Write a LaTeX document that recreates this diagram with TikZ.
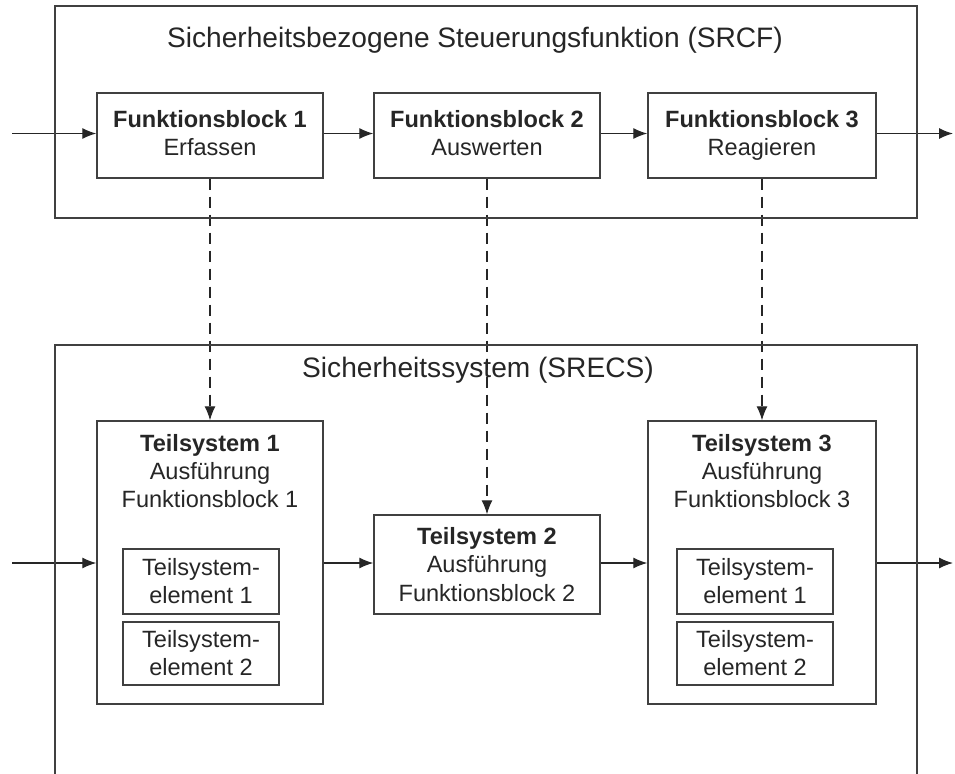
\documentclass[tikz,border=0pt]{standalone}
\usepackage{fontspec}
\setmainfont{Liberation Sans}
\usetikzlibrary{arrows.meta}
\pgfdeclarelayer{bg}
\pgfsetlayers{bg,main}

\tikzset{
        frame/.style={draw=black!75, line width=0.8pt, inner sep=0pt},
        block/.style={frame, align=center, text=black!85, font=\fontsize{13.4}{16}\selectfont},
        heading/.style={text=black!85, font=\fontsize{16}{19}\selectfont},
        flow/.style={draw=black!85, line width=0.7pt, -{Latex[length=2.8mm,width=2.2mm]}},
        map/.style={flow, dash pattern=on 2.2mm off 1.4mm},
}

\begin{document}
\begin{tikzpicture}
        \useasboundingbox (0cm, 0cm) rectangle (19.100000cm, -15.460000cm);
        \clip (0cm, 0cm) rectangle (19.100000cm, -15.460000cm);
        % obere Ebene: SRCF
        \node (srcf) [frame, minimum width=17.240000cm, minimum height=4.240000cm] at (9.720000cm, -2.240000cm) {};
        \node (srcft) [heading] at (9.500000cm, -0.800000cm) {Sicherheitsbezogene Steuerungsfunktion (SRCF)};
        \node (fb1) [block, minimum width=4.520000cm, minimum height=1.700000cm] at (4.200000cm, -2.710000cm) {\textbf{Funktionsblock 1}\\Erfassen\vphantom{g}};
        \node (fb2) [block, minimum width=4.520000cm, minimum height=1.700000cm] at (9.740000cm, -2.710000cm) {\textbf{Funktionsblock 2}\\Auswerten\vphantom{g}};
        \node (fb3) [block, minimum width=4.560000cm, minimum height=1.700000cm] at (15.240000cm, -2.710000cm) {\textbf{Funktionsblock 3}\\Reagieren};
        \coordinate (in1) at (0.240000cm, -2.670000cm);
        \coordinate (out1) at (19.060000cm, -2.670000cm);
        % untere Ebene: SRECS
        \node (srecs) [frame, minimum width=17.240000cm, minimum height=9.100000cm] at (9.720000cm, -11.450000cm) {};
        \node (srecst) [heading] at (9.560000cm, -7.400000cm) {Sicherheitssystem (SRECS)};
        \node (ts1) [frame, minimum width=4.520000cm, minimum height=5.660000cm] at (4.200000cm, -11.250000cm) {};
        \node (ts1t) [block, draw=none] at (4.200000cm, -9.420000cm) {\textbf{Teilsystem 1}\\Ausführung\\Funktionsblock 1};
        \node (e11) [block, minimum width=3.120000cm, minimum height=1.300000cm] at (4.020000cm, -11.630000cm) {Teilsystem-\\element 1};
        \node (e12) [block, minimum width=3.120000cm, minimum height=1.260000cm] at (4.020000cm, -13.070000cm) {Teilsystem-\\element 2};
        \node (ts2) [block, minimum width=4.520000cm, minimum height=1.980000cm] at (9.740000cm, -11.290000cm) {\textbf{Teilsystem 2}\\Ausführung\\Funktionsblock 2};
        \node (ts3) [frame, minimum width=4.560000cm, minimum height=5.660000cm] at (15.240000cm, -11.250000cm) {};
        \node (ts3t) [block, draw=none] at (15.240000cm, -9.420000cm) {\textbf{Teilsystem 3}\\Ausführung\\Funktionsblock 3};
        \node (e31) [block, minimum width=3.120000cm, minimum height=1.300000cm] at (15.100000cm, -11.630000cm) {Teilsystem-\\element 1};
        \node (e32) [block, minimum width=3.120000cm, minimum height=1.260000cm] at (15.100000cm, -13.070000cm) {Teilsystem-\\element 2};
        \coordinate (in2) at (0.240000cm, -11.260000cm);
        \coordinate (out2) at (19.060000cm, -11.260000cm);
        \begin{pgfonlayer}{bg}
                \draw (in1) edge [flow] (in1 -| fb1.west);
                \draw (in1 -| fb1.east) edge [flow] (in1 -| fb2.west);
                \draw (in1 -| fb2.east) edge [flow] (in1 -| fb3.west);
                \draw (in1 -| fb3.east) edge [flow] (out1);
                \draw (in2) edge [flow] (in2 -| ts1.west);
                \draw (in2 -| ts1.east) edge [flow] (in2 -| ts2.west);
                \draw (in2 -| ts2.east) edge [flow] (in2 -| ts3.west);
                \draw (in2 -| ts3.east) edge [flow] (out2);
                \draw (fb1) edge [map] (ts1);
                \draw (fb2) edge [map] (ts2);
                \draw (fb3) edge [map] (ts3);
        \end{pgfonlayer}
\end{tikzpicture}
\end{document}
